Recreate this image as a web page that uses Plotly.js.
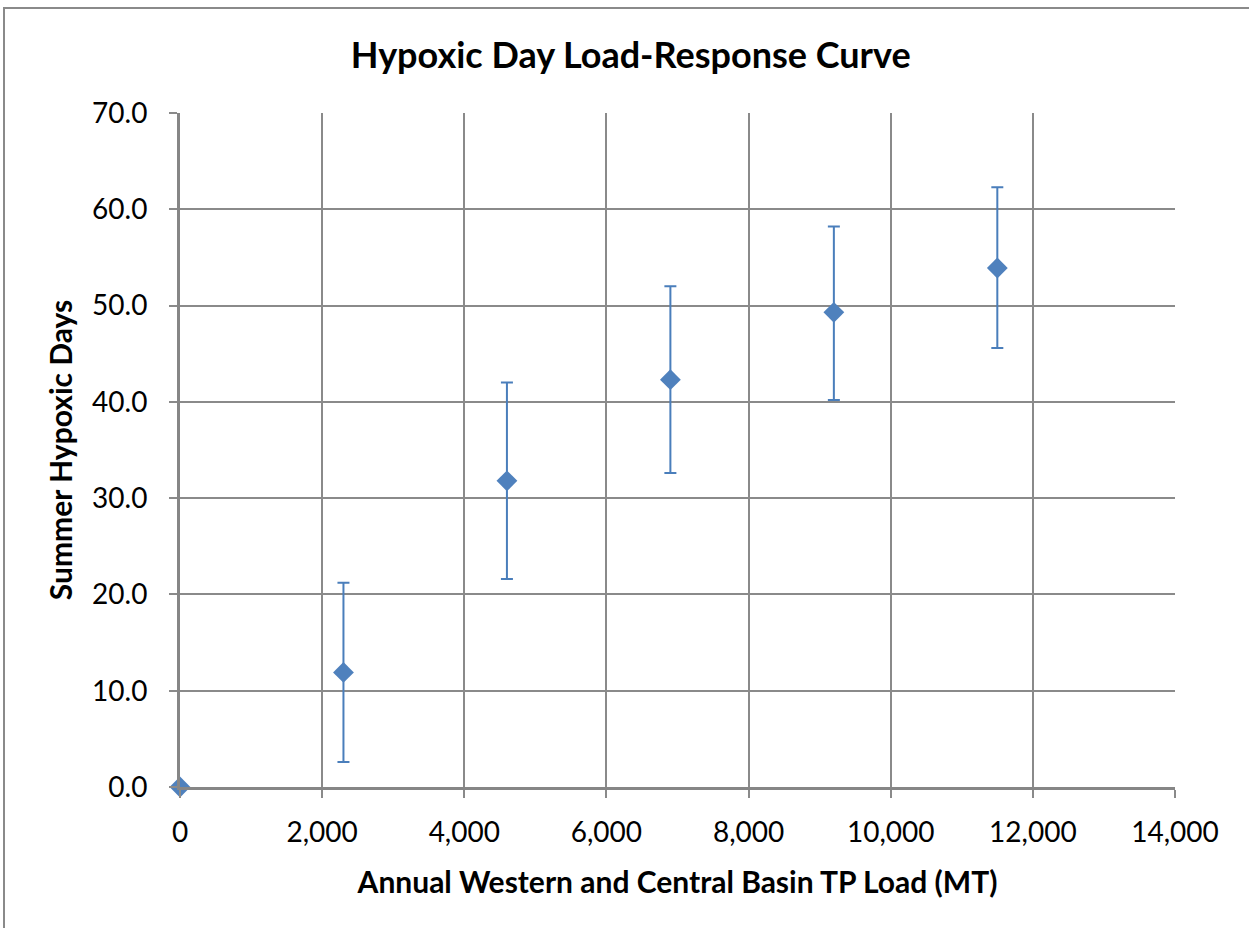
<!DOCTYPE html>
<html>
<head>
<meta charset="utf-8">
<script src="https://cdn.plot.ly/plotly-3.0.1.min.js"></script>
<style>
html,body{margin:0;padding:0;background:#fff;}
#chart{position:absolute;left:0;top:0;width:1249px;height:928px;}
#frame{position:absolute;left:3px;top:7px;width:1260px;height:940px;border:2px solid #8a8a8a;pointer-events:none;box-sizing:border-box;}
</style>
</head>
<body>
<div id="chart"></div>
<div id="frame"></div>
<script>
const loads = [0, 2300, 4600, 6900, 9200, 11500];
const hypoxicDays = [0, 11.9, 31.8, 42.3, 49.3, 53.9];
const upperBound = [0, 21.2, 42.0, 52.0, 58.2, 62.3];
const lowerBound = [0, 2.6, 21.6, 32.6, 40.2, 45.6];
const xTickVals = [0, 2000, 4000, 6000, 8000, 10000, 12000, 14000];
const xTickText = ["0", "2,000", "4,000", "6,000", "8,000", "10,000", "12,000", "14,000"];
const yTickVals = [0, 10, 20, 30, 40, 50, 60, 70];
const yTickText = ["0.0", "10.0", "20.0", "30.0", "40.0", "50.0", "60.0", "70.0"];

const errPlus = upperBound.map((u, i) => u - hypoxicDays[i]);
const errMinus = lowerBound.map((l, i) => hypoxicDays[i] - l);

const trace = {
  x: loads,
  y: hypoxicDays,
  type: 'scatter',
  mode: 'markers',
  marker: {symbol: 'diamond', size: 16, color: '#4f81bd'},
  error_y: {
    type: 'data', symmetric: false,
    array: errPlus, arrayminus: errMinus,
    color: '#4a7ebb', thickness: 2, width: 6, visible: true
  },
  cliponaxis: false,
  showlegend: false
};

const font = "Lato, 'Open Sans', sans-serif";
const layout = {
  width: 1249, height: 928,
  margin: {l: 180, r: 74, t: 113, b: 141},
  paper_bgcolor: '#fff', plot_bgcolor: '#fff',
  font: {family: font, color: '#000'},
  title: {text: '<b>Hypoxic Day Load-Response Curve</b>', font: {size: 36, family: font, color: '#000'}, x: 0.505, xanchor: 'center', y: 0.94, yanchor: 'middle'},
  xaxis: {
    range: [0, 14000], tickvals: xTickVals, ticktext: xTickText,
    showgrid: true, gridcolor: '#8a8a8a', gridwidth: 2,
    showline: true, linecolor: '#868686', linewidth: 3,
    ticks: 'outside', ticklen: 8, tickcolor: '#8a8a8a', tickwidth: 2,
    ticklabelstandoff: 10,
    tickfont: {size: 28, family: font}, zeroline: false, mirror: false,
    title: {text: '<b>Annual Western and Central Basin TP Load (MT)</b>', font: {size: 30, family: font}, standoff: 26}
  },
  yaxis: {
    range: [0, 70], tickvals: yTickVals, ticktext: yTickText,
    showgrid: true, gridcolor: '#8a8a8a', gridwidth: 2,
    showline: true, linecolor: '#868686', linewidth: 3,
    ticks: 'outside', ticklen: 8, tickcolor: '#8a8a8a', tickwidth: 2,
    ticklabelstandoff: 16,
    tickfont: {size: 28, family: font}, zeroline: false,
    title: {text: '<b>Summer Hypoxic Days</b>', font: {size: 30, family: font}, standoff: 11}
  }
};

Plotly.newPlot('chart', [trace], layout, {displayModeBar: false, staticPlot: true});
</script>
</body>
</html>
